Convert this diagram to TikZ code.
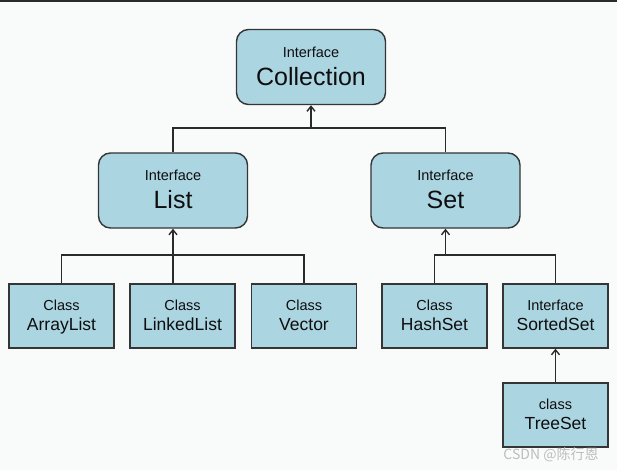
\documentclass[tikz,border=0pt]{standalone}
\usepackage{fontspec}
\setmainfont{Liberation Sans}
\newfontfamily\cjk{Noto Sans CJK SC}
\usetikzlibrary{arrows.meta}
\definecolor{bgc}{HTML}{F9FAFA}
\definecolor{boxfill}{HTML}{ACD5E2}
\definecolor{boxline}{HTML}{353535}
\definecolor{linec}{HTML}{2A2A2A}
\definecolor{txt}{HTML}{0E0E0E}
\definecolor{wm}{HTML}{BDBDBD}
\begin{document}
\begin{tikzpicture}[x=1pt,y=-1pt,
  boxbase/.style={draw=boxline, line width=1.4pt, fill=boxfill, inner sep=0pt},
  ibox/.style={boxbase, rounded corners=12pt, minimum width=149pt, minimum height=75pt},
  cbox/.style={boxbase, minimum width=105pt, minimum height=64pt},
  smalltxt/.style={font=\fontsize{14.5}{16}\selectfont, text=txt, inner sep=0pt, anchor=base},
  bigtxt/.style={font=\fontsize{25}{28}\selectfont, text=txt, inner sep=0pt, anchor=base},
  midtxt/.style={font=\fontsize{17.5}{20}\selectfont, text=txt, inner sep=0pt, anchor=base},
  conn/.style={draw=linec, line width=1.4pt},
  arr/.style={conn, -{Straight Barb[length=5pt,width=8pt]}}]
\fill[bgc] (0,0) rectangle (617,470);
\fill[linec] (0,0) rectangle (617,2);
\useasboundingbox (0,0) rectangle (617,470);

% interface boxes
\node[ibox] (coll) at (311,67) {};
\node[smalltxt] (collA) at ([yshift=9.5pt]coll.center) {Interface};
\node[bigtxt] (collB) at ([yshift=-19pt]coll.center) {Collection};

\node[ibox] (list) at (173,190.5) {};
\node[smalltxt] (listA) at ([yshift=9.5pt]list.center) {Interface};
\node[bigtxt] (listB) at ([yshift=-17.5pt]list.center) {List};

\node[ibox] (set) at (445.5,190.5) {};
\node[smalltxt] (setA) at ([yshift=9.5pt]set.center) {Interface};
\node[bigtxt] (setB) at ([yshift=-17.5pt]set.center) {Set};

% class boxes
\node[cbox] (al) at (61.5,316) {};
\node[smalltxt] (alA) at ([yshift=6pt]al.center) {Class};
\node[midtxt] (alB) at ([yshift=-14pt]al.center) {ArrayList};

\node[cbox] (ll) at (182.5,316) {};
\node[smalltxt] (llA) at ([yshift=6pt]ll.center) {Class};
\node[midtxt] (llB) at ([yshift=-14pt]ll.center) {LinkedList};

\node[cbox] (vec) at (304,316) {};
\node[smalltxt] (vecA) at ([yshift=6pt]vec.center) {Class};
\node[midtxt] (vecB) at ([yshift=-14pt]vec.center) {Vector};

\node[cbox] (hs) at (434.5,316) {};
\node[smalltxt] (hsA) at ([yshift=6pt]hs.center) {Class};
\node[midtxt] (hsB) at ([yshift=-14pt]hs.center) {HashSet};

\node[cbox] (ss) at (555.5,316) {};
\node[smalltxt] (ssA) at ([yshift=6pt]ss.center) {Interface};
\node[midtxt] (ssB) at ([yshift=-14pt]ss.center) {SortedSet};

\node[cbox] (ts) at (555.5,415) {};
\node[smalltxt] (tsA) at ([yshift=6pt]ts.center) {class};
\node[midtxt] (tsB) at ([yshift=-14pt]ts.center) {TreeSet};

% connectors
\coordinate (j1) at (311,128);
\draw[conn] (list.north) |- (j1) -| (set.north);
\draw[arr] (j1) -- (coll.south);

\coordinate (j2) at (173,255);
\draw[conn] (al.north) |- (j2) -| (vec.north);
\draw[arr] (j2 |- ll.north) -- (list.south);

\coordinate (j3) at (445.5,255);
\draw[conn] (hs.north) |- (j3) -| (ss.north);
\draw[arr] (j3) -- (set.south);

\draw[arr] (ts.north) -- (ss.south);

% watermark
\node[font=\cjk\fontsize{14}{16}\selectfont, text=wm, inner sep=0pt] (wmk) at (551,455) {CSDN @陈行恩};
\end{tikzpicture}
\end{document}
